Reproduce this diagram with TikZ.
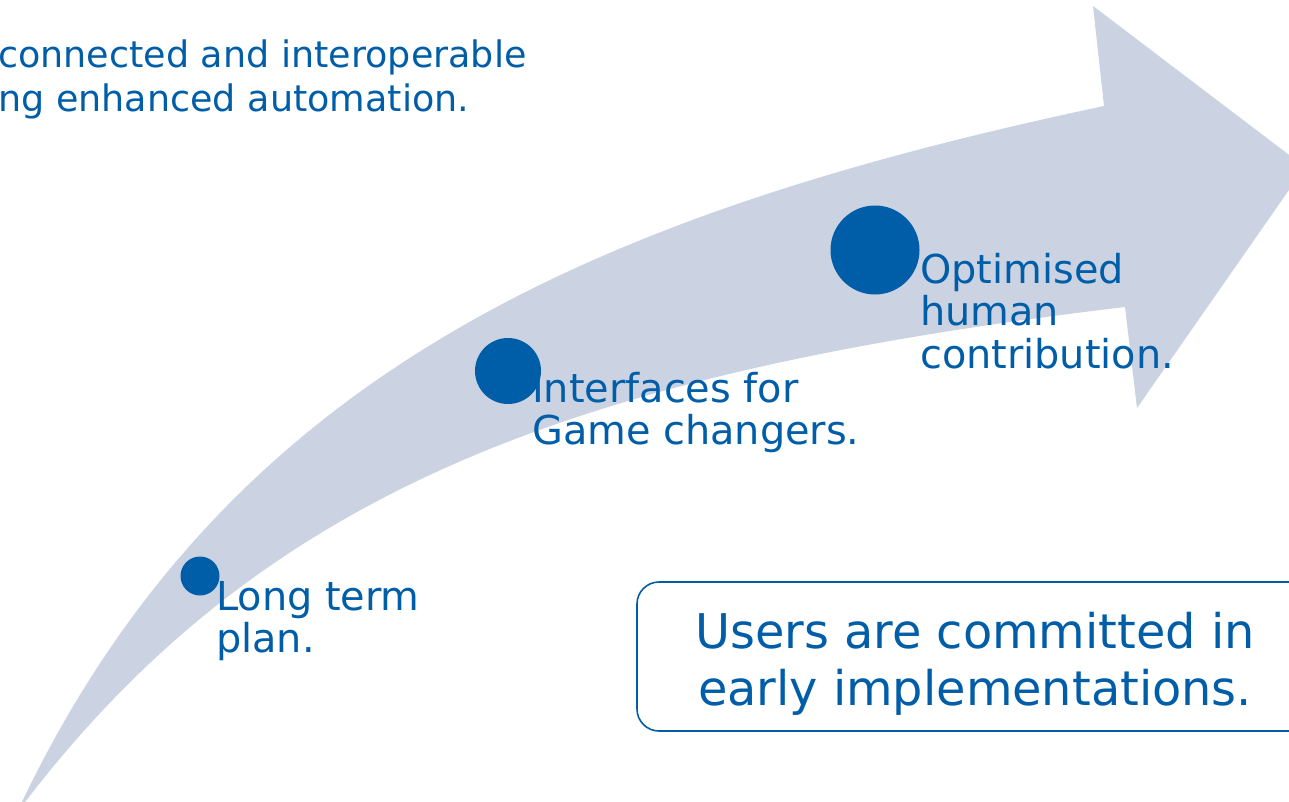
\documentclass[tikz,border=0pt]{standalone}
\usepackage{fontspec}
\setmainfont{DejaVu Sans}
\definecolor{txtblue}{RGB}{0,93,168}
\definecolor{arrowfill}{RGB}{203,211,226}
\begin{document}
\begin{tikzpicture}[x=1pt,y=-1pt,
  lbl/.style={anchor=base west, inner sep=0pt, text=txtblue, font=\fontsize{39.8}{42.5}\selectfont},
  dot/.style={circle, fill=txtblue, inner sep=0pt},
  commitbox/.style={draw=txtblue, line width=1.6pt, rounded corners=22pt, inner sep=0pt, fill=white}]
\useasboundingbox (0,0) rectangle (1289,802);
% curved arrow
\fill[arrowfill] (20,806) .. controls (226,373) and (595,214) .. (1104,106)
  -- (1093,6) -- (1305,167) -- (1137,408) -- (1125,307)
  .. controls (579,372) and (264,488) .. (22,806) -- cycle;
% top text
\node[anchor=base west, inner sep=0pt, text=txtblue, font=\fontsize{36.5}{44}\selectfont] (toptext) at (-2,68)
  {\begin{tabular}[t]{@{}l@{}}connected and interoperable\\ng enhanced automation.\end{tabular}};
% milestones
\node[dot, minimum size=39pt] (m1) at (200,576) {};
\node[dot, minimum size=66pt] (m2) at (508,371) {};
\node[dot, minimum size=89pt] (m3) at (875,250) {};
\node[lbl] (l1) at (216,610) {\begin{tabular}[t]{@{}l@{}}Long term\\plan.\end{tabular}};
\node[lbl] (l2) at (532,402) {\begin{tabular}[t]{@{}l@{}}Interfaces for\\Game changers.\end{tabular}};
\node[lbl] (l3) at (920,283) {\begin{tabular}[t]{@{}l@{}}Optimised\\human\\contribution.\end{tabular}};
% box
\node[commitbox, minimum width=676pt, minimum height=149pt] (box) at (975,656.5) {};
\node[anchor=base, inner sep=0pt, text=txtblue, font=\fontsize{47.8}{57}\selectfont] (boxtext) at (975,648)
  {\begin{tabular}[t]{@{}c@{}}Users are committed in\\early implementations.\end{tabular}};
\end{tikzpicture}
\end{document}
